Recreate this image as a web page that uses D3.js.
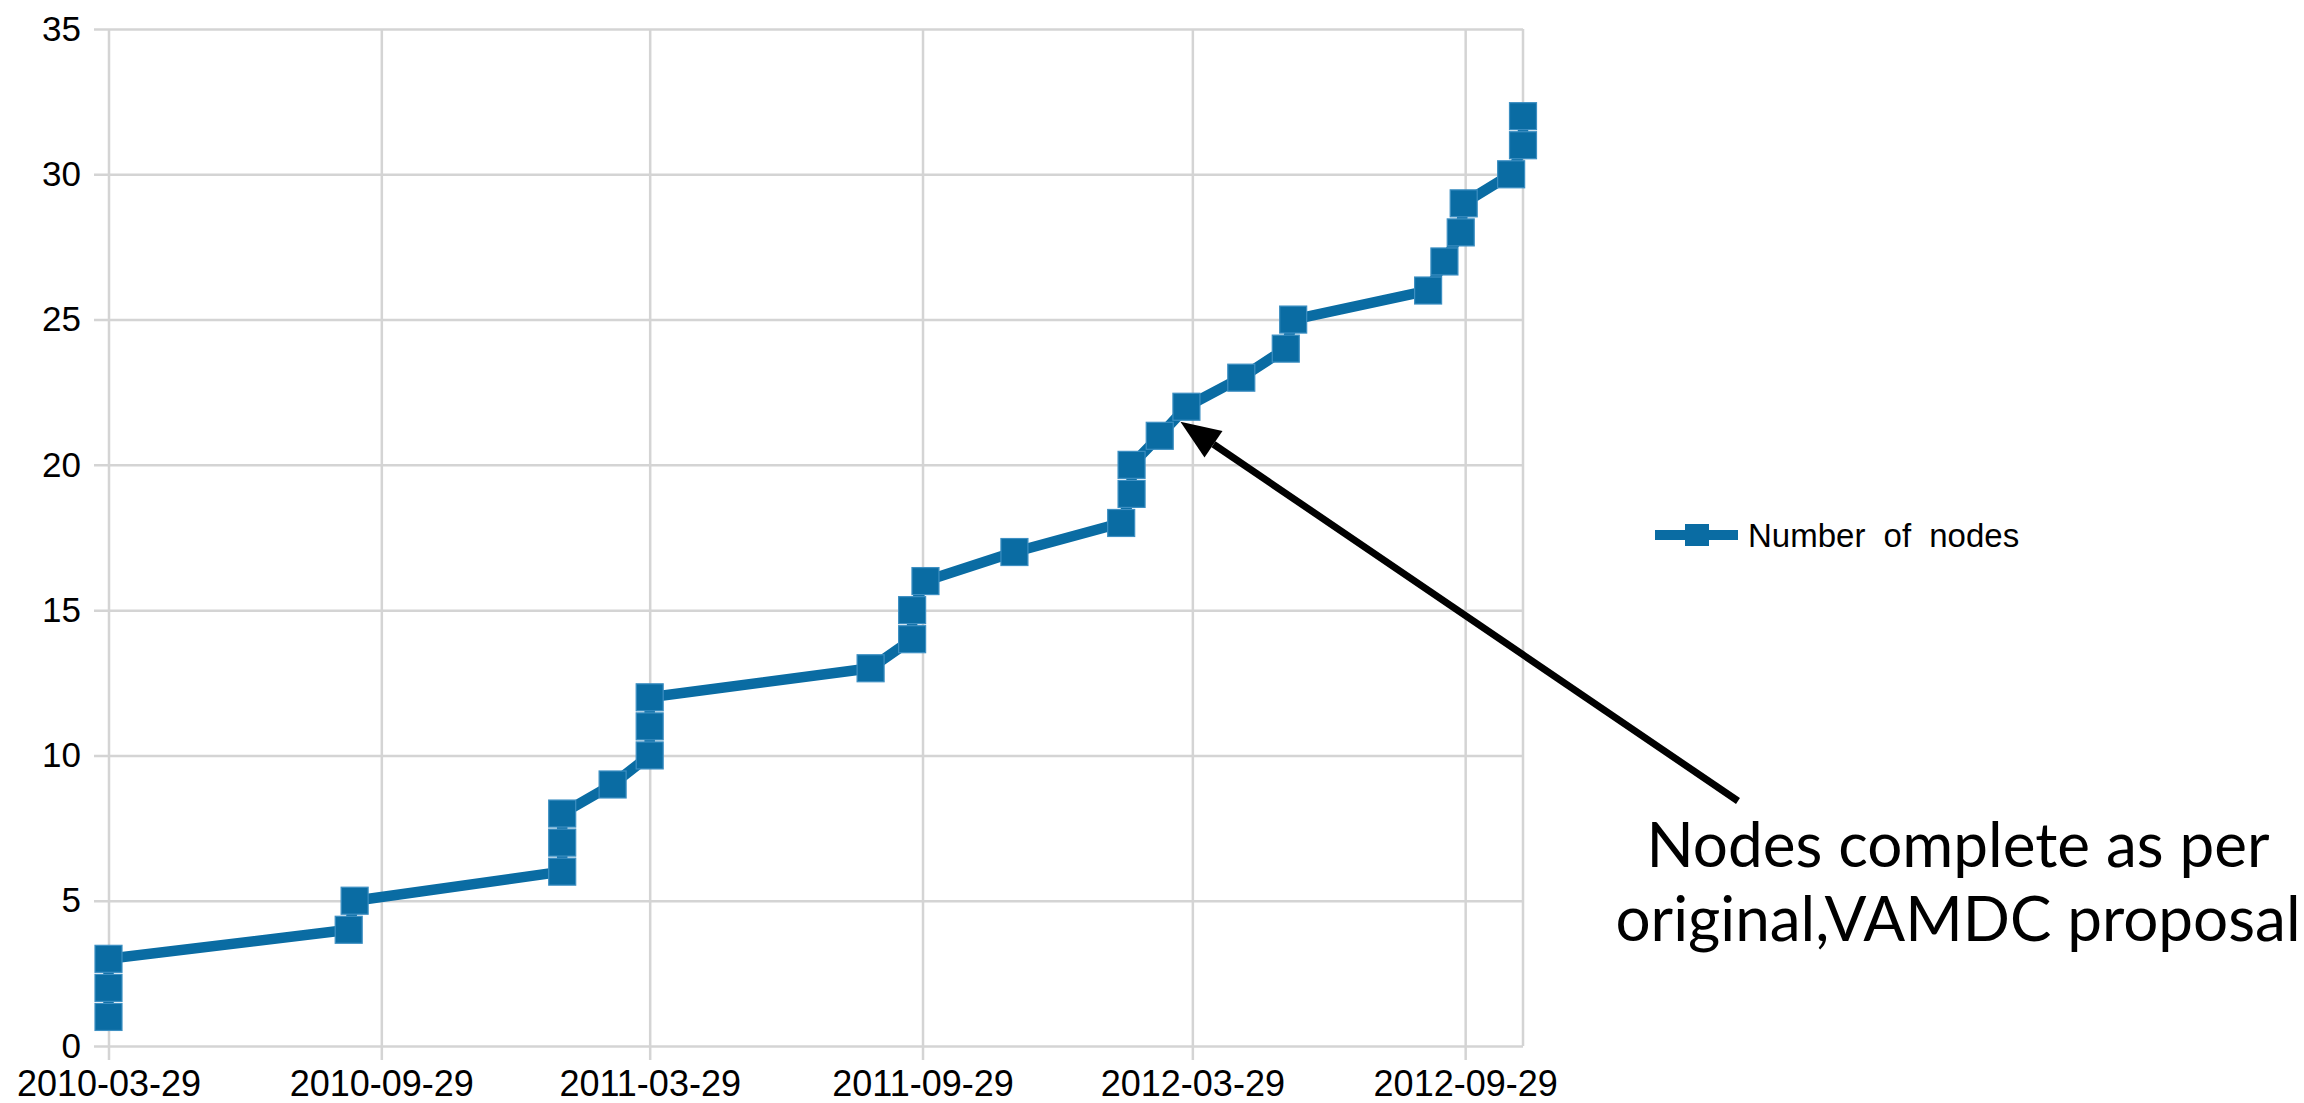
<!DOCTYPE html>
<html>
<head>
<meta charset="utf-8">
<script src="https://cdn.jsdelivr.net/npm/d3@7"></script>
<style>
	body { margin: 0; background: #fff; }
	svg { display: block; }
</style>
</head>
<body>
<svg id="chart" width="2304" height="1103"></svg>
<script>
// data
var dates = ['2010-03-29', '2010-03-29', '2010-03-29', '2010-09-07', '2010-09-11',
	'2011-01-29', '2011-01-29', '2011-01-29', '2011-03-04', '2011-03-29', '2011-03-29', '2011-03-29',
	'2011-08-25', '2011-09-22', '2011-09-22', '2011-10-01', '2011-11-30',
	'2012-02-10', '2012-02-17', '2012-02-17', '2012-03-07', '2012-03-25',
	'2012-05-01', '2012-05-31', '2012-06-05', '2012-09-04', '2012-09-15',
	'2012-09-26', '2012-09-28', '2012-10-30', '2012-11-07', '2012-11-07'];
var nodes = [1, 2, 3, 4, 5, 6, 7, 8, 9, 10, 11, 12, 13, 14, 15, 16, 17, 18, 19, 20,
	21, 22, 23, 24, 25, 26, 27, 28, 29, 30, 31, 32];
var xTicks = ['2010-03-29', '2010-09-29', '2011-03-29', '2011-09-29', '2012-03-29', '2012-09-29'];
var yTicks = [0, 5, 10, 15, 20, 25, 30, 35];
var seriesName = 'Number of nodes';
var noteLines = ['Nodes complete as per', 'original,VAMDC proposal'];
var noteIndex = 21; // point the arrow refers to (22 nodes)

drawChart();

function drawChart() {
	var parse = d3.utcParse('%Y-%m-%d');
	var points = dates.map(function(d, i) { return {date: parse(d), value: nodes[i]}; });

	var blue = '#0a6ca3';
	var grid = '#d4d4d4';

	var svg = d3.select('#chart');
	var pLeft = 108.5, pRight = 1523, pTop = 29, pBottom = 1046;

	var x = d3.scaleUtc()
		.domain(d3.extent(points, function(d) { return d.date; }))
		.range([pLeft, pRight]);
	var y = d3.scaleLinear().domain([0, 35]).range([pBottom, pTop]);

	// y gridlines + labels
	var yAxis = svg.append('g')
		.attr('transform', 'translate(94,0)')
		.call(d3.axisLeft(y).tickValues(yTicks).tickSize(-(pRight - 94)).tickPadding(13));
	yAxis.select('.domain').remove();
	yAxis.selectAll('line').attr('stroke', grid).attr('stroke-width', 2.5);
	yAxis.selectAll('text')
		.attr('fill', '#000')
		.style('font-family', '"Liberation Sans", Arial, sans-serif')
		.style('font-size', '35px');

	// x gridlines + labels
	var xAxis = svg.append('g')
		.attr('transform', 'translate(0,' + (pBottom + 14) + ')')
		.call(d3.axisBottom(x).tickValues(xTicks.map(parse)).tickSize(-(pBottom + 14 - pTop))
			.tickPadding(10).tickFormat(d3.utcFormat('%Y-%m-%d')));
	xAxis.select('.domain').remove();
	xAxis.selectAll('line').attr('stroke', grid).attr('stroke-width', 2.5);
	xAxis.selectAll('text')
		.attr('fill', '#000')
		.style('font-family', '"Liberation Sans", Arial, sans-serif')
		.style('font-size', '36px');

	// right border
	svg.append('line')
		.attr('x1', pRight).attr('x2', pRight)
		.attr('y1', pTop).attr('y2', pBottom)
		.attr('stroke', grid).attr('stroke-width', 2.5);

	// series line
	var line = d3.line()
		.x(function(d) { return x(d.date); })
		.y(function(d) { return y(d.value); });

	svg.append('path')
		.datum(points)
		.attr('d', line)
		.attr('fill', 'none')
		.attr('stroke', blue)
		.attr('stroke-width', 10.5)
		.attr('stroke-linejoin', 'round');

	var ms = 27;
	svg.selectAll('rect.marker')
		.data(points)
		.enter()
		.append('rect')
		.attr('class', 'marker')
		.attr('x', function(d) { return x(d.date) - ms / 2; })
		.attr('y', function(d) { return y(d.value) - ms / 2; })
		.attr('width', ms)
		.attr('height', ms)
		.attr('fill', blue)
		.attr('stroke', '#3d8fc2')
		.attr('stroke-width', 1.2);

	// legend
	var lg = svg.append('g').attr('transform', 'translate(1655,535)');
	lg.append('line')
		.attr('x1', 0).attr('x2', 83)
		.attr('stroke', blue).attr('stroke-width', 10);
	lg.append('rect')
		.attr('x', 30).attr('y', -11)
		.attr('width', 24).attr('height', 22)
		.attr('fill', blue);
	lg.append('text')
		.attr('x', 93).attr('y', 12)
		.attr('fill', '#000')
		.style('font-family', '"Liberation Sans", Arial, sans-serif')
		.style('font-size', '33px')
		.style('word-spacing', '9px')
		.text(seriesName);

	// annotation
	var note = svg.append('g');
	note.selectAll('text')
		.data(noteLines)
		.enter()
		.append('text')
		.attr('x', 1958)
		.attr('y', function(d, i) { return 867 + i * 74; })
		.attr('text-anchor', 'middle')
		.attr('fill', '#000')
		.style('font-family', 'Lato, "Noto Sans", sans-serif')
		.style('font-size', '62px')
		.text(function(d) { return d; });

	var target = points[noteIndex];
	var tip = [x(target.date) - 6, y(target.value) + 15];
	var tail = [1738, 801];
	var ang = Math.atan2(tail[1] - tip[1], tail[0] - tip[0]);
	var headLen = 40, headW = 16;
	var base = [tip[0] + headLen * Math.cos(ang), tip[1] + headLen * Math.sin(ang)];

	note.append('line')
		.attr('x1', base[0]).attr('y1', base[1])
		.attr('x2', tail[0]).attr('y2', tail[1])
		.attr('stroke', '#000').attr('stroke-width', 7);
	note.append('path')
		.attr('d', 'M' + tip[0] + ',' + tip[1] +
			'L' + (base[0] - headW * Math.sin(ang)) + ',' + (base[1] + headW * Math.cos(ang)) +
			'L' + (base[0] + headW * Math.sin(ang)) + ',' + (base[1] - headW * Math.cos(ang)) + 'Z')
		.attr('fill', '#000');
}
</script>
</body>
</html>
